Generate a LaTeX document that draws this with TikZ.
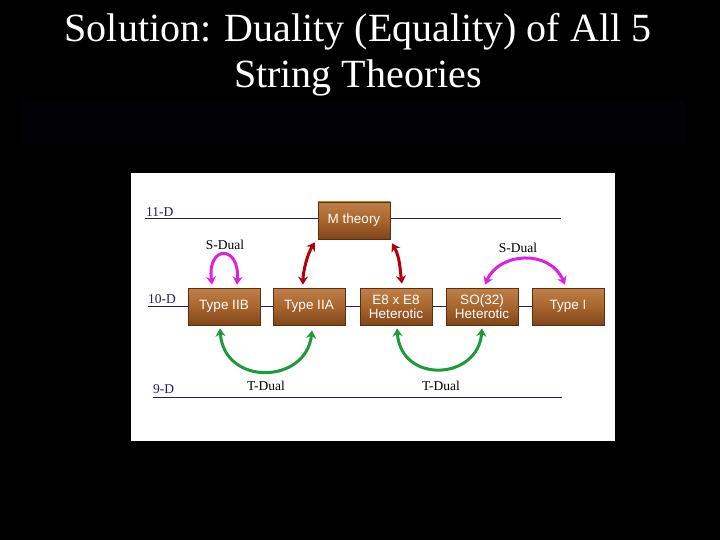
\documentclass[tikz,border=0pt]{standalone}
\usepackage{fontspec}
\setmainfont{Liberation Serif}
\setsansfont{Liberation Sans}
\usetikzlibrary{arrows.meta}
\definecolor{lineblue}{HTML}{2A1870}
\definecolor{woodtop}{HTML}{C08048}
\definecolor{woodmid}{HTML}{A8652E}
\definecolor{woodbot}{HTML}{80461A}
\definecolor{woodedge}{HTML}{5A2E0E}
\definecolor{smag}{HTML}{E020E0}
\definecolor{tred}{HTML}{B00010}
\definecolor{tgreen}{HTML}{1E9A3C}
\definecolor{band}{HTML}{020206}
\tikzset{
  wood/.style={draw=woodedge, line width=0.8pt, top color=woodtop, bottom color=woodbot, middle color=woodmid,
    minimum width=72pt, minimum height=37pt, inner sep=1pt, text=white,
    font=\sffamily\fontsize{13.5}{14}\selectfont, align=center},
  dimlabel/.style={text=lineblue, font=\fontsize{13.5}{13.5}\selectfont, anchor=base west, inner sep=0pt},
  duallabel/.style={text=black, font=\fontsize{13.5}{13.5}\selectfont, inner sep=0pt},
  level/.style={draw=lineblue, line width=1pt},
  dtip/.style={{Stealth[length=8pt,width=10pt]}-{Stealth[length=8pt,width=10pt]}},
  sarrow/.style={draw=smag, line width=3pt, dtip},
  rarrow/.style={draw=tred, line width=3pt, dtip},
  garrow/.style={draw=tgreen, line width=3pt, dtip},
  title/.style={text=white, font=\fontsize{40}{40}\selectfont, anchor=base, inner sep=0pt}
}
\begin{document}
\begin{tikzpicture}[x=1pt,y=-1pt]
\fill[black] (0,0) rectangle (720,540);
\useasboundingbox (0,0) rectangle (720,540);
\fill[band] (20,100) rectangle (685,146);
\node[title] (title1) at (358,42) {Solution: Duality (Equality) of All 5};
\node[title] (title2) at (358,88) {String Theories};
\fill[white] (131,173) rectangle (615,441);
% level lines
\coordinate (l11a) at (145,219); \coordinate (l11b) at (561,219);
\coordinate (l10a) at (148,306); \coordinate (l10b) at (532,306);
\coordinate (l9a) at (153,397); \coordinate (l9b) at (562,397);
\draw[level] (l11a) -- (l11b);
\draw[level] (l10a) -- (l10b);
\draw[level] (l9a) -- (l9b);
\node[dimlabel] (d11) at (146,216) {11-D};
\node[dimlabel] (d10) at (148,303) {10-D};
\node[dimlabel] (d9) at (153,393) {9-D};
% boxes
\node[wood] (m) at (354,220.5) {M theory};
\node[wood] (iib) at (224,306.5) {Type IIB};
\node[wood] (iia) at (309,306.5) {Type IIA};
\node[wood] (e8) at (396,306.5) {E8 x E8\\Heterotic};
\node[wood] (so) at (482,306.5) {SO(32)\\Heterotic};
\node[wood] (ti) at (568,306.5) {Type I};
% labels
\node[duallabel] (sd1) at (225,245) {S-Dual};
\node[duallabel] (sd2) at (518,248) {S-Dual};
\node[duallabel] (td1) at (266,386) {T-Dual};
\node[duallabel] (td2) at (441,386) {T-Dual};
% S-duality arrows
\draw[sarrow] ([xshift=-12pt,yshift=3pt]iib.north) .. controls +(-5,-40) and +(3,-40) .. ([xshift=13pt,yshift=3pt]iib.north);
\draw[sarrow] ([xshift=3pt,yshift=3pt]so.north) .. controls +(14,-32) and +(-16,-36) .. ([xshift=-3pt,yshift=3pt]ti.north);
% M theory arrows
\draw[rarrow] ([xshift=-39pt,yshift=-3pt]m.south) .. controls +(-8,12) and +(0,-12) .. ([xshift=-6pt,yshift=3pt]iia.north);
\draw[rarrow] ([xshift=38pt,yshift=-4pt]m.south) .. controls +(8,14) and +(-2,-14) .. ([xshift=6pt,yshift=4pt]e8.north);
% T-duality arrows
\draw[garrow] ([xshift=-4pt,yshift=-3pt]iib.south) .. controls +(4,58) and +(-6,54) .. ([xshift=3pt,yshift=-5pt]iia.south);
\draw[garrow] ([xshift=1pt,yshift=-3pt]e8.south) .. controls +(4,56) and +(-4,52) .. ([xshift=0pt,yshift=-3pt]so.south);
\end{tikzpicture}
\end{document}
